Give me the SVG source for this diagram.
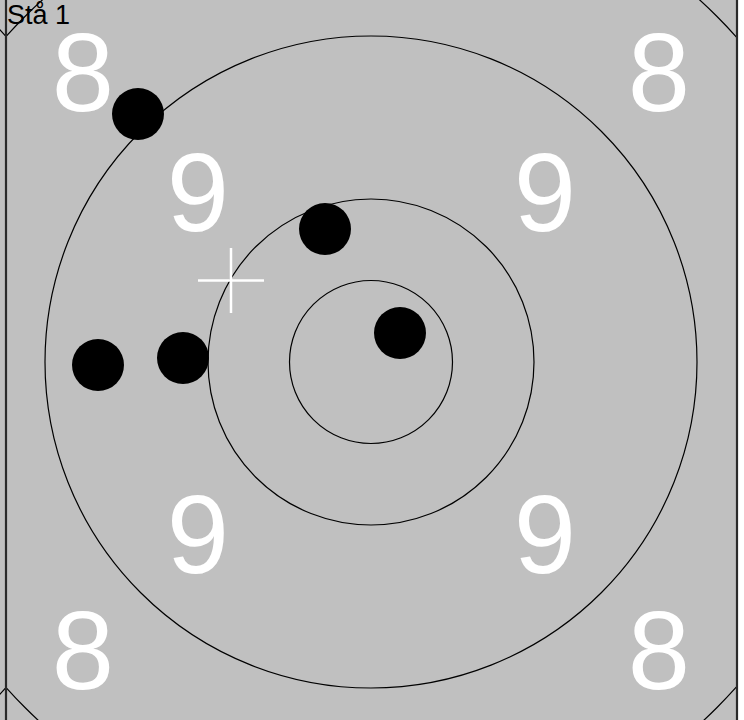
<svg xmlns="http://www.w3.org/2000/svg" width="744" height="720" viewBox="0 0 744 720">
<style>
.ring{fill:none;stroke:#000;stroke-width:1.2}
.num{fill:#fff;font-family:"Liberation Sans",Arial,sans-serif;font-size:112px;text-anchor:middle}
.hole{fill:#000}
.edge{stroke:#2a2a2a;stroke-width:2.2}
</style>
<defs>
<clipPath id="clipMain"><rect x="7" y="0" width="729" height="720"/></clipPath>
<clipPath id="clipLeft"><rect x="0" y="0" width="5" height="720"/></clipPath>
</defs>
<rect width="744" height="720" fill="#c0c0c0"/>
<rect x="738" y="0" width="6" height="720" fill="#ffffff"/>
<g id="prev-tile" clip-path="url(#clipLeft)">
<circle class="ring" cx="-359" cy="362" r="489"/>
</g>
<g id="target" clip-path="url(#clipMain)">
<circle class="ring" cx="371" cy="362" r="489"/>
<circle class="ring" cx="371" cy="362" r="326"/>
<circle class="ring" cx="371" cy="362" r="163"/>
<circle class="ring" cx="371" cy="362" r="81.5"/>
</g>
<g id="labels">
<text class="num" x="83" y="111">8</text>
<text class="num" x="659" y="111">8</text>
<text class="num" x="83" y="689">8</text>
<text class="num" x="659" y="689">8</text>
<text class="num" x="198" y="231">9</text>
<text class="num" x="545" y="231">9</text>
<text class="num" x="198" y="573">9</text>
<text class="num" x="545" y="573">9</text>
</g>
<g id="aim-cross" stroke="#fff" stroke-width="2.5">
<line x1="198" y1="280.5" x2="264" y2="280.5"/>
<line x1="231" y1="248" x2="231" y2="313"/>
</g>
<g id="hits">
<circle class="hole" cx="138" cy="114" r="26"/>
<circle class="hole" cx="325" cy="229" r="26"/>
<circle class="hole" cx="400" cy="333" r="26"/>
<circle class="hole" cx="98" cy="365" r="26"/>
<circle class="hole" cx="183" cy="358" r="26"/>
</g>
<g id="borders">
<line class="edge" x1="6" y1="0" x2="6" y2="720"/>
<line class="edge" x1="737" y1="0" x2="737" y2="720"/>
</g>
<text x="7" y="24" font-family="Liberation Sans, Arial, sans-serif" font-size="27" fill="#000">Stå 1</text>
</svg>
